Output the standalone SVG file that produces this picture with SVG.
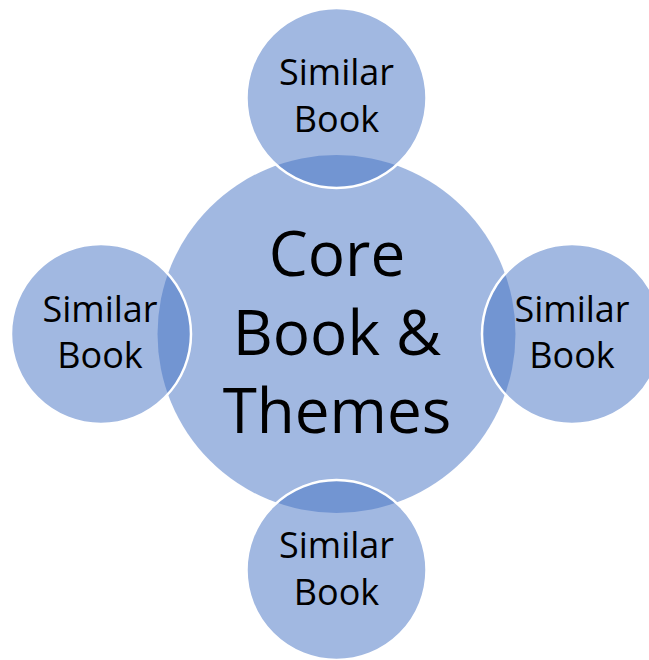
<svg xmlns="http://www.w3.org/2000/svg" width="649" height="660" viewBox="0 0 649 660">
<style>
.core{fill:#4472C4;fill-opacity:0.5;stroke:none}
.sat{fill:#4472C4;fill-opacity:0.5;stroke:#FFFFFF;stroke-width:2.5}
.t{font-family:"Open Sans","Noto Sans","Liberation Sans",sans-serif;fill:#000000;text-anchor:middle}
.ts{font-size:36px}
.tc{font-size:62px}
</style>
<rect width="649" height="660" fill="#FFFFFF"/>
<g id="core">
<circle class="core" cx="336.5" cy="334" r="179"/>
</g>
<g id="sat-top">
<circle class="sat" cx="336.5" cy="98" r="90"/>
</g>
<g id="sat-left">
<circle class="sat" cx="101" cy="334" r="90"/>
</g>
<g id="sat-right">
<circle class="sat" cx="572" cy="334" r="90"/>
</g>
<g id="sat-bottom">
<circle class="sat" cx="336.5" cy="570" r="90"/>
</g>
<g id="connectors"></g>
<g id="labels">
<text class="t tc" x="337" y="276">Core</text>
<text class="t tc" x="337" y="355">Book &amp;</text>
<text class="t tc" x="337" y="433">Themes</text>
<text class="t ts" x="336.5" y="85">Similar</text>
<text class="t ts" x="336.5" y="132">Book</text>
<text class="t ts" x="100" y="322">Similar</text>
<text class="t ts" x="100" y="368">Book</text>
<text class="t ts" x="572" y="322">Similar</text>
<text class="t ts" x="572" y="368">Book</text>
<text class="t ts" x="336.5" y="558">Similar</text>
<text class="t ts" x="336.5" y="605">Book</text>
</g>
</svg>
